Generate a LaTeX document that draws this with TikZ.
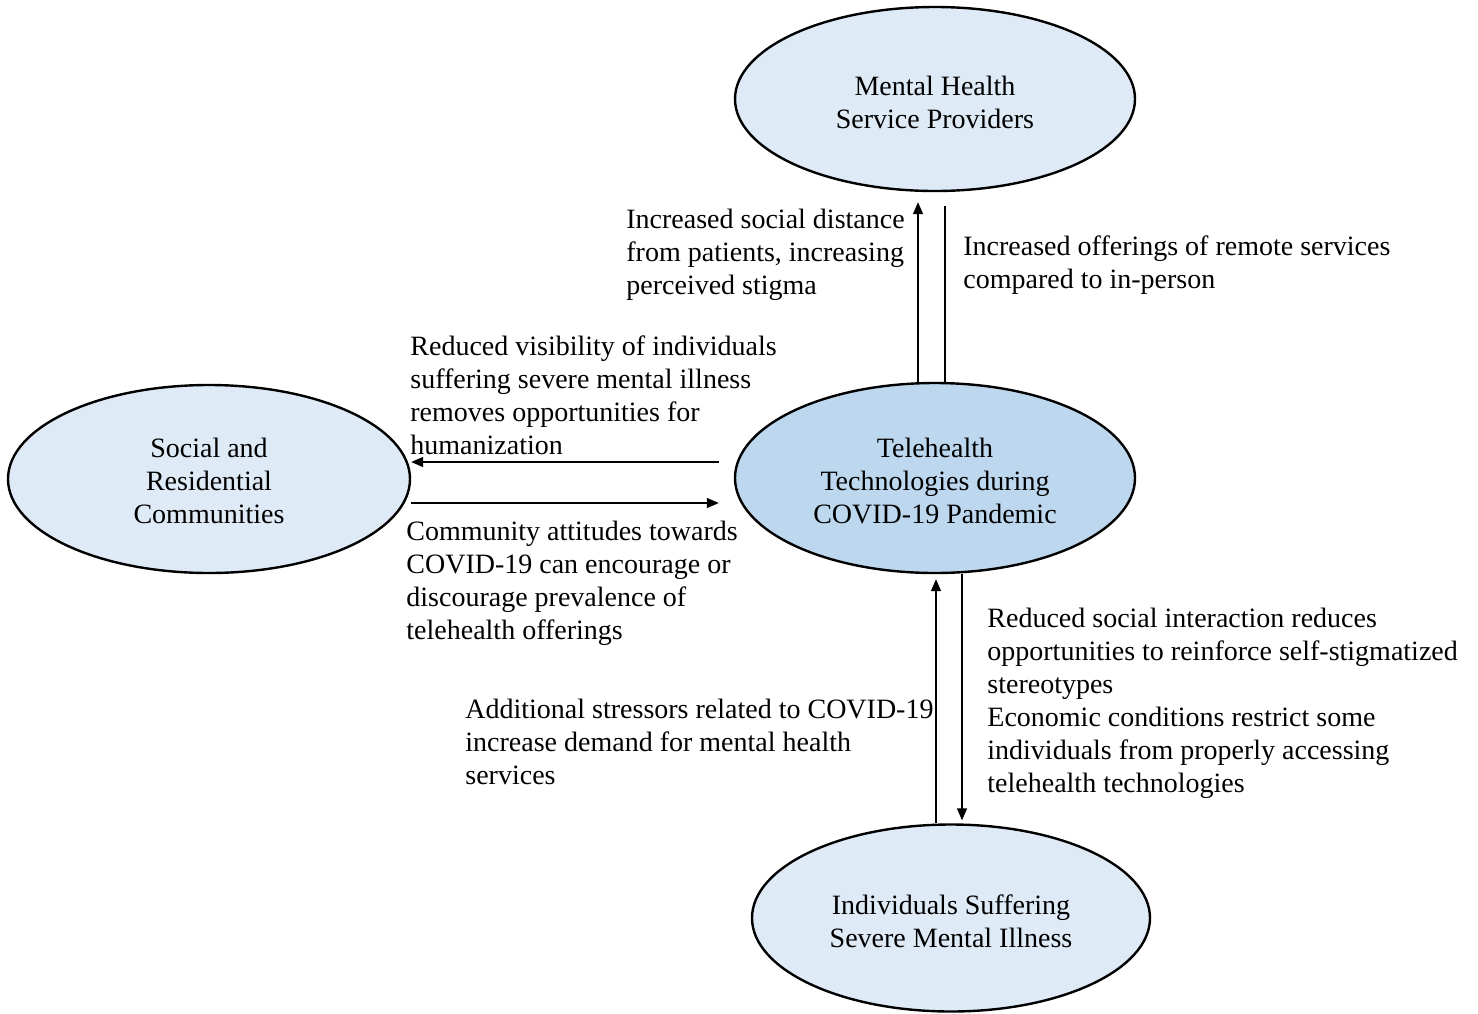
\documentclass[tikz,border=0pt]{standalone}
\usepackage{fontspec}
\setmainfont{Liberation Serif}
\usetikzlibrary{shapes.geometric,arrows.meta}
\definecolor{lightfill}{HTML}{DEEAF6}
\definecolor{darkfill}{HTML}{BDD7EE}
\begin{document}
\begin{tikzpicture}[x=0.5pt,y=-0.5pt,
  every node/.style={font=\fontsize{14}{16.5}\selectfont},
  ell/.style={ellipse,draw=black,line width=1.2pt,fill=lightfill,inner sep=0pt,minimum width=200pt,minimum height=92pt},
  etext/.style={align=center,inner sep=0pt},
  lbl/.style={align=left,anchor=west,inner sep=0pt},
  conn/.style={line width=0.75pt,-{Triangle[length=6pt,width=5pt]}},
  plain/.style={line width=0.75pt}]
\useasboundingbox (0,0) rectangle (1478,1013);
\node[ell] (mhsp) at (935,99) {};
\node[etext] (mhspt) at (935,102) {Mental Health\\Service Providers};
\node[ell,minimum width=201pt,minimum height=94pt] (src) at (209,479) {};
\node[etext] (srct) at (209,481) {Social and\\Residential\\Communities};
\node[ell,fill=darkfill,minimum height=95pt] (tele) at (935,478) {};
\node[etext] (telet) at (935,481) {Telehealth\\Technologies during\\COVID-19 Pandemic};
\node[ell,minimum width=199pt,minimum height=93.5pt] (bot) at (951,918) {};
\node[etext] (bott) at (951,921) {Individuals Suffering\\Severe Mental Illness};

\draw[conn] ([xshift=-8.5pt]tele.north) -- ([xshift=-8.5pt,yshift=-5pt]mhsp.south);
\draw[plain] ([xshift=5pt]tele.north) -- ([xshift=5pt,yshift=-7pt]mhsp.south);
\draw[conn] ([xshift=-7.5pt,yshift=8pt]tele.west) -- ([yshift=8.5pt]src.east);
\draw[conn] ([yshift=-12pt]src.east) -- ([xshift=-7.5pt,yshift=-12.5pt]tele.west);
\draw[conn] ([xshift=-7.5pt]bot.north) -- ([xshift=0.5pt,yshift=-2.5pt]tele.south);
\draw[conn] ([xshift=13.5pt]tele.south) -- ([xshift=5.5pt,yshift=1.5pt]bot.north);

\node[lbl] (l1) at (626,255) {Increased social distance\\from patients, increasing\\perceived stigma};
\node[lbl] (l2) at (963,265) {Increased offerings of remote services\\compared to in-person};
\node[lbl] (l3) at (410,395) {Reduced visibility of individuals\\suffering severe mental illness\\removes opportunities for\\humanization};
\node[lbl] (l4) at (406,583) {Community attitudes towards\\COVID-19 can encourage or\\discourage prevalence of\\telehealth offerings};
\node[lbl] (l5) at (465,742) {Additional stressors related to COVID-19\\increase demand for mental health\\services};
\node[lbl] (l6) at (987,703) {Reduced social interaction reduces\\opportunities to reinforce self-stigmatized\\stereotypes\\Economic conditions restrict some\\individuals from properly accessing\\telehealth technologies};
\end{tikzpicture}
\end{document}
